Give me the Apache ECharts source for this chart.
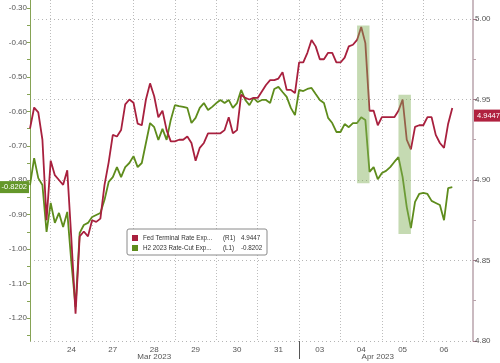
<!DOCTYPE html>
<html><head><meta charset="utf-8">
<script src="https://cdn.jsdelivr.net/npm/echarts@6/dist/echarts.min.js"></script>
<style>html,body{margin:0;padding:0;background:#fff}#c{width:500px;height:363px}</style>
</head><body><div id="c"></div>
<script>
// ---- data ----
const days = ['Mar 23','Mar 24','Mar 27','Mar 28','Mar 29','Mar 30','Mar 31','Apr 03','Apr 04','Apr 05','Apr 06','Apr 07'];
const daySamples = [5,10,10,10,10,10,10,10,10,10,10,3];
const slotTimes = ['00:00','02:24','04:48','07:12','09:36','12:00','14:24','16:48','19:12','21:36'];
const fedName = 'Fed Terminal Rate Exp...';
const cutName = 'H2 2023 Rate-Cut Exp...';
const fedTerminal = [4.932,4.945,4.942,4.925,4.875,4.912,4.903,4.900,4.897,4.906,
 4.863,4.817,4.865,4.868,4.865,4.875,4.874,4.876,4.897,4.911,
 4.928,4.927,4.931,4.947,4.950,4.948,4.935,4.934,4.950,4.960,
 4.952,4.939,4.943,4.931,4.924,4.924,4.925,4.925,4.927,4.923,
 4.912,4.920,4.923,4.929,4.929,4.929,4.929,4.931,4.939,4.929,
 4.931,4.953,4.951,4.950,4.951,4.951,4.955,4.959,4.962,4.962,
 4.963,4.967,4.956,4.956,4.954,4.973,4.973,4.979,4.987,4.983,
 4.975,4.975,4.979,4.979,4.973,4.973,4.976,4.983,4.984,4.987,
 4.995,4.985,4.943,4.943,4.934,4.939,4.939,4.939,4.939,4.943,
 4.950,4.925,4.919,4.933,4.934,4.934,4.939,4.939,4.928,4.923,
 4.920,4.935,4.9447];
const rateCut = [-0.814,-0.736,-0.794,-0.814,-0.950,-0.866,-0.924,-0.895,-0.936,-0.892,
 -1.040,-1.168,-0.953,-0.930,-0.924,-0.907,-0.901,-0.895,-0.857,-0.805,
 -0.791,-0.762,-0.791,-0.762,-0.750,-0.730,-0.762,-0.750,-0.692,-0.634,
 -0.646,-0.683,-0.651,-0.683,-0.625,-0.582,-0.585,-0.587,-0.590,-0.634,
 -0.619,-0.590,-0.576,-0.596,-0.587,-0.576,-0.567,-0.576,-0.567,-0.590,
 -0.576,-0.538,-0.567,-0.582,-0.561,-0.573,-0.567,-0.567,-0.576,-0.535,
 -0.529,-0.544,-0.558,-0.590,-0.611,-0.538,-0.541,-0.535,-0.532,-0.550,
 -0.567,-0.576,-0.619,-0.634,-0.660,-0.660,-0.637,-0.646,-0.634,-0.634,
 -0.617,-0.625,-0.776,-0.762,-0.797,-0.779,-0.773,-0.762,-0.747,-0.733,
 -0.791,-0.878,-0.939,-0.863,-0.840,-0.837,-0.840,-0.860,-0.866,-0.872,
 -0.916,-0.823,-0.8202];
const leftLabels = [-1.20,-1.10,-1.00,-0.90,-0.80,-0.70,-0.60,-0.50,-0.40,-0.30];
const leftTicks = [-1.25,-1.20,-1.15,-1.10,-1.05,-1.00,-0.95,-0.90,-0.85,-0.80,-0.75,-0.70,-0.65,-0.60,-0.55,-0.50,-0.45,-0.40,-0.35,-0.30];
const rightLabels = [4.80,4.85,4.90,4.95,5.00];
const rightMinor = [4.825,4.875,4.925,4.975];
const highlights = [
  ['Apr 04 09:36','Apr 04 16:48',4.898,4.996],
  ['Apr 05 09:36','Apr 05 16:48',4.8665,4.953]
];
const monthLabels = {'Mar 28 12:00':'Mar 2023','Apr 04 21:36':'Apr 2023'};
const monthSplit = 'Apr 03 00:00';

// ---- build categories ----
const categories = [], catDay = [], catSlot = [];
days.forEach((d, di) => {
  const start = di === 0 ? slotTimes.length - daySamples[di] : 0;
  for (let k = start; k < start + daySamples[di]; k++) {
    categories.push(d + ' ' + slotTimes[k]); catDay.push(di); catSlot.push(k);
  }
});
const lastDay = days.length - 1;

const RED = '#a8203e', GREEN = '#5e8c1c';
const fedLast = fedTerminal[fedTerminal.length - 1];
const cutLast = rateCut[rateCut.length - 1];
const font = 'Liberation Sans';
const clear = 'rgba(0,0,0,0)';

const chart = echarts.init(document.getElementById('c'), null, {renderer: 'canvas'});
chart.setOption({
  animation: false,
  grid: {left: 30, right: 27, top: 0, bottom: 22, containLabel: false},
  legend: {
    orient: 'vertical', left: 127, top: 229,
    backgroundColor: '#fff', borderColor: '#8a8a8a', borderWidth: 1, borderRadius: 2,
    padding: [5, 4, 3, 5], itemGap: 2, itemWidth: 6, itemHeight: 6, icon: 'rect',
    data: [fedName, cutName],
    formatter: n => n === fedName
      ? `{n|${n}}{r|(R1)}{v|${fedLast.toFixed(4)}}`
      : `{n|${n}}{r|(L1)}{v|${cutLast.toFixed(4)}}`,
    textStyle: {fontFamily: font, fontSize: 6.3, color: '#333', lineHeight: 8,
      rich: {n: {width: 80, fontSize: 6.3, fontFamily: font, color: '#333'},
             r: {width: 18, fontSize: 6.3, fontFamily: font, color: '#333'},
             v: {width: 22, fontSize: 6.3, fontFamily: font, color: '#333'}}}
  },
  xAxis: [{
    type: 'category', data: categories, boundaryGap: false,
    axisLine: {show: false}, axisTick: {show: false},
    axisLabel: {
      interval: (i) => catSlot[i] === 5 && catDay[i] > 0 && catDay[i] < lastDay,
      formatter: (v) => v.split(' ')[1],
      fontFamily: font, fontSize: 8, color: '#555', margin: 5
    },
    splitLine: {show: true,
      interval: (i) => catSlot[i] === 0 && catDay[i] > 0 && catDay[i] < lastDay,
      lineStyle: {color: '#bdbdbd', type: [1, 2], width: 1}}
  }, {
    type: 'category', data: categories, boundaryGap: false, position: 'bottom',
    axisLine: {show: false},
    axisTick: {show: true, interval: (i, v) => v === monthSplit, length: 18, lineStyle: {color: '#555'}},
    axisLabel: {interval: (i, v) => monthLabels[v] !== undefined, formatter: v => monthLabels[v] || '',
      fontFamily: font, fontSize: 8, color: '#555', margin: 12},
    splitLine: {show: false}
  }],
  yAxis: [{
    type: 'value', position: 'left', min: -1.2668, max: -0.2768,
    axisLine: {show: true, lineStyle: {color: '#86a355', width: 1}},
    axisTick: {show: true, customValues: leftTicks, length: 3, lineStyle: {color: '#86a355'}},
    axisLabel: {customValues: leftLabels, formatter: v => v.toFixed(2), fontFamily: font, fontSize: 8, color: '#555', margin: 3},
    splitLine: {show: false}
  }, {
    type: 'value', position: 'right', min: 4.80, max: 5.0118,
    axisLine: {show: true, lineStyle: {color: '#b9a3ab', width: 1.5}},
    axisTick: {show: true, customValues: rightLabels, length: 4, lineStyle: {color: '#a07a88'}},
    axisLabel: {customValues: rightLabels, formatter: v => v.toFixed(2), fontFamily: font, fontSize: 8, color: '#555', margin: 2},
    splitLine: {show: true, lineStyle: {color: '#b5b5b5', type: [1, 3], width: 1}}
  }, {
    type: 'value', position: 'right', min: 4.80, max: 5.0118,
    axisLine: {show: false},
    axisTick: {show: true, customValues: rightMinor, length: 3, lineStyle: {color: '#b9a3ab'}},
    axisLabel: {show: false}, splitLine: {show: false}
  }],
  series: [{
    name: fedName, type: 'line', yAxisIndex: 1, data: fedTerminal,
    showSymbol: false, symbol: 'none', z: 3,
    lineStyle: {color: RED, width: 1.8}, itemStyle: {color: RED},
    markLine: {silent: true, symbol: 'none', data: [{yAxis: fedLast}],
      lineStyle: {color: clear, width: 0, type: 'solid'},
      label: {show: true, position: 'end', distance: 1, formatter: () => fedLast.toFixed(4),
        backgroundColor: '#b0213f', color: '#fff', fontFamily: font, fontSize: 7.5, padding: [2, 2, 2, 3]}},
    markArea: {silent: true, z: 6,
      itemStyle: {color: 'rgba(127,174,85,0.45)'},
      data: highlights.map(h => [{xAxis: h[0], yAxis: h[2]}, {xAxis: h[1], yAxis: h[3]}])}
  }, {
    name: cutName, type: 'line', yAxisIndex: 0, data: rateCut,
    showSymbol: false, symbol: 'none', z: 2,
    lineStyle: {color: GREEN, width: 1.8}, itemStyle: {color: GREEN},
    markLine: {silent: true, symbol: 'none', data: [{yAxis: cutLast}],
      lineStyle: {color: clear, width: 0, type: 'solid'},
      label: {show: true, position: 'start', distance: 1, formatter: () => cutLast.toFixed(4),
        backgroundColor: '#64972a', color: '#fff', fontFamily: font, fontSize: 7.5, padding: [2, 2, 2, 2]}}
  }]
});
</script></body></html>
